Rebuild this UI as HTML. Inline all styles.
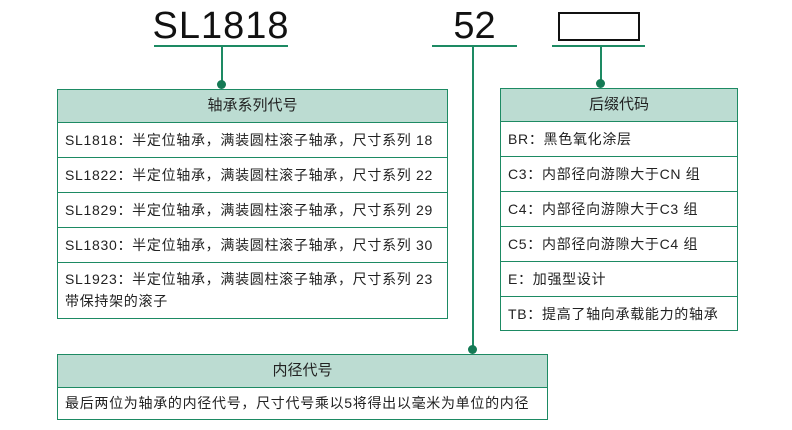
<!DOCTYPE html>
<html><head><meta charset="utf-8"><style>
body{margin:0;width:792px;height:430px;background:#fff;position:relative;overflow:hidden;font-family:"Liberation Sans","Noto Sans CJK SC",sans-serif;color:#222}
.a{position:absolute}
.box{position:absolute;border:1.5px solid #1d8a63;box-sizing:border-box;background:#fff}
.hd{background:#bcdcd2;border-bottom:1.5px solid #1d8a63;text-align:center;font-size:15px;box-sizing:border-box}
.r{border-bottom:1.5px solid #1d8a63;font-size:14px;padding-left:7px;box-sizing:border-box;white-space:nowrap;letter-spacing:0.7px}
.r:last-child{border-bottom:none}
.ln{position:absolute;background:#1d8a63}
.dot{position:absolute;width:9px;height:9px;border-radius:50%;background:#157a55}
</style></head><body>
<div class="a" style="left:150px;top:4px;width:142px;text-align:center;font-size:38px;line-height:44px;color:#111;letter-spacing:1px">SL1818</div>
<div class="ln" style="left:154px;top:45px;width:134px;height:1.5px"></div>
<div class="ln" style="left:221px;top:45px;width:1.5px;height:40px"></div>
<div class="dot" style="left:217px;top:80px"></div>

<div class="a" style="left:432px;top:4px;width:85px;text-align:center;font-size:38px;line-height:44px;color:#111">52</div>
<div class="ln" style="left:432px;top:45px;width:85px;height:1.5px"></div>
<div class="ln" style="left:472px;top:45px;width:1.5px;height:305px"></div>
<div class="dot" style="left:468px;top:345px"></div>

<div class="a" style="left:558px;top:12px;width:82px;height:29px;border:2px solid #111;box-sizing:border-box"></div>
<div class="ln" style="left:552px;top:45px;width:93px;height:1.5px"></div>
<div class="ln" style="left:600px;top:45px;width:1.5px;height:39px"></div>
<div class="dot" style="left:596px;top:79px"></div>

<div class="box" style="left:57px;top:89px;width:391px;height:230px">
<div class="hd" style="height:33px;line-height:31px">轴承系列代号</div>
<div class="r" style="height:35px;line-height:35px">SL1818：半定位轴承，满装圆柱滚子轴承，尺寸系列 18</div>
<div class="r" style="height:35px;line-height:35px">SL1822：半定位轴承，满装圆柱滚子轴承，尺寸系列 22</div>
<div class="r" style="height:35px;line-height:35px">SL1829：半定位轴承，满装圆柱滚子轴承，尺寸系列 29</div>
<div class="r" style="height:35px;line-height:35px">SL1830：半定位轴承，满装圆柱滚子轴承，尺寸系列 30</div>
<div class="r" style="height:55px;line-height:22px;padding-top:5px">SL1923：半定位轴承，满装圆柱滚子轴承，尺寸系列 23<br>带保持架的滚子</div>
</div>

<div class="box" style="left:500px;top:88px;width:238px;height:243px">
<div class="hd" style="height:33px;line-height:31px">后缀代码</div>
<div class="r" style="height:35px;line-height:34px">BR：黑色氧化涂层</div>
<div class="r" style="height:35px;line-height:34px">C3：内部径向游隙大于CN 组</div>
<div class="r" style="height:35px;line-height:34px">C4：内部径向游隙大于C3 组</div>
<div class="r" style="height:35px;line-height:34px">C5：内部径向游隙大于C4 组</div>
<div class="r" style="height:35px;line-height:34px">E：加强型设计</div>
<div class="r" style="height:35px;line-height:34px">TB：提高了轴向承载能力的轴承</div>
</div>

<div class="box" style="left:57px;top:354px;width:491px;height:66px">
<div class="hd" style="height:33px;line-height:31px">内径代号</div>
<div class="r" style="height:31px;line-height:30px">最后两位为轴承的内径代号，尺寸代号乘以5将得出以毫米为单位的内径</div>
</div>
</body></html>
